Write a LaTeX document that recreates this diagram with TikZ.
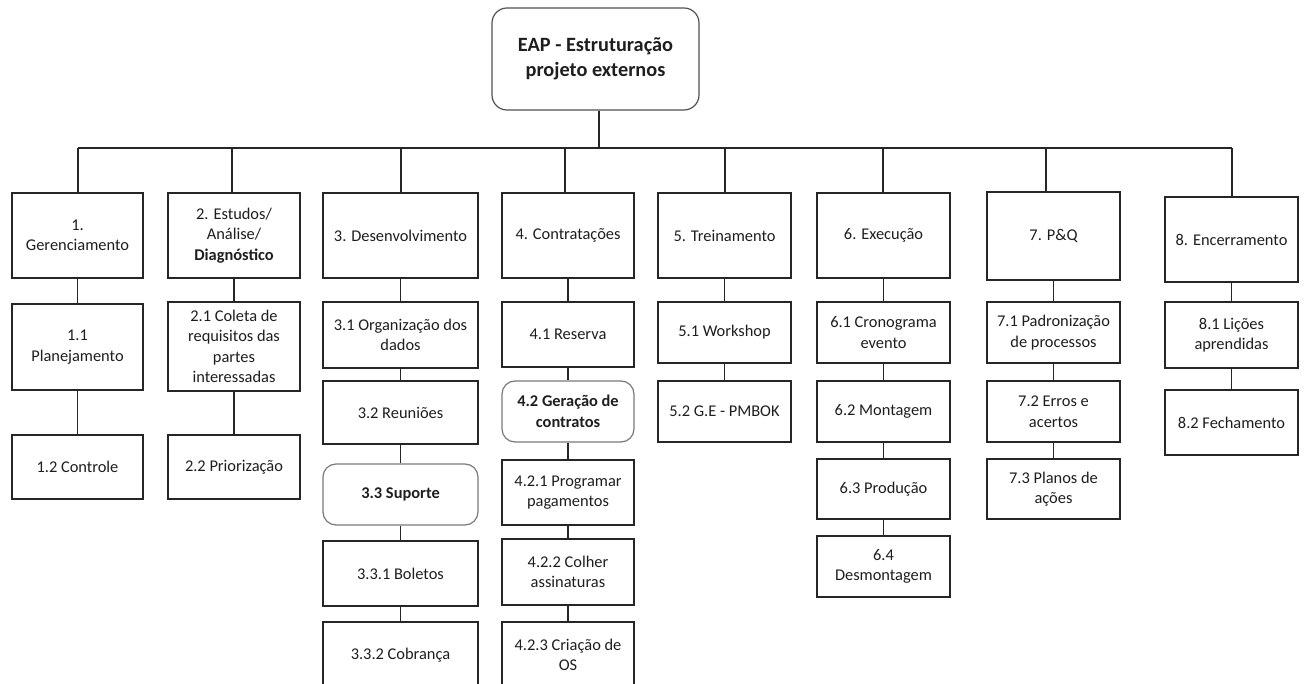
\documentclass[tikz,border=0pt]{standalone}
\usepackage{fontspec}
\setmainfont{Carlito}
\definecolor{ink}{HTML}{1E1E1E}
\definecolor{edge}{HTML}{262626}
\definecolor{soft}{HTML}{7A7A7A}
\begin{document}
\begin{tikzpicture}[x=1pt,y=-1pt,
  every node/.style={font=\fontsize{16.4}{20.5}\selectfont, text=ink, align=center, inner sep=2pt},
  bx/.style={draw=edge, line width=1.2pt, fill=white},
  rbx/.style={draw=soft, line width=1.2pt, fill=white, rounded corners=13pt},
  conn/.style={draw=edge, line width=1.2pt}]
\useasboundingbox (0,0) rectangle (1304,684);
\clip (0,0) rectangle (1304,684);
\fill[white] (0,0) rectangle (1304,684);

% root
\node[rbx, draw=edge!80, rounded corners=15pt, minimum width=207, minimum height=102,
  font=\fontsize{20.3}{24.5}\selectfont\bfseries] (top) at (595.5,59) {EAP - Estruturação\\projeto externos};

% column 1
\node[bx, minimum width=131, minimum height=85] (n1) at (77.5,235.5) {1.\\Gerenciamento};
\node[bx, minimum width=131, minimum height=86] (n11) at (77.5,347) {1.1\\Planejamento};
\node[bx, minimum width=131, minimum height=64] (n12) at (77.5,467) {1.2 Controle};
% column 2
\node[bx, minimum width=132, minimum height=85] (n2) at (234,235.5) {2. Estudos/\\Análise/\\\textbf{Diagnóstico}};
\node[bx, minimum width=132, minimum height=89] (n21) at (234,346.5) {2.1 Coleta de\\requisitos das\\partes\\interessadas};
\node[bx, minimum width=132, minimum height=64] (n22) at (234,467) {2.2 Priorização};
% column 3
\node[bx, minimum width=155, minimum height=85] (n3) at (400.5,235.5) {3. Desenvolvimento};
\node[bx, minimum width=155, minimum height=66] (n31) at (400.5,335) {3.1 Organização dos\\dados};
\node[bx, minimum width=155, minimum height=63] (n32) at (400.5,412.5) {3.2 Reuniões};
\node[rbx, minimum width=155, minimum height=61, font=\fontsize{16.4}{20.5}\selectfont\bfseries] (n33) at (400.5,494.5) {3.3 Suporte};
\node[bx, minimum width=155, minimum height=65] (n331) at (400.5,573.5) {3.3.1 Boletos};
\node[bx, minimum width=155, minimum height=66] (n332) at (400.5,655) {3.3.2 Cobrança};
% column 4
\node[bx, minimum width=132, minimum height=85] (n4) at (568,235.5) {4. Contratações};
\node[bx, minimum width=132, minimum height=65] (n41) at (568,334.5) {4.1 Reserva};
\node[rbx, minimum width=132, minimum height=61, font=\fontsize{16.4}{20.5}\selectfont\bfseries] (n42) at (568,411.5) {4.2 Geração de\\contratos};
\node[bx, minimum width=132, minimum height=65] (n421) at (568,492.5) {4.2.1 Programar\\pagamentos};
\node[bx, minimum width=132, minimum height=66] (n422) at (568,572) {4.2.2 Colher\\assinaturas};
\node[bx, minimum width=132, minimum height=66] (n423) at (568,655) {4.2.3 Criação de\\OS};
% column 5
\node[bx, minimum width=133, minimum height=85] (n5) at (724.5,235.5) {5. Treinamento};
\node[bx, minimum width=133, minimum height=61] (n51) at (724.5,332.5) {5.1 Workshop};
\node[bx, minimum width=133, minimum height=61] (n52) at (724.5,411.5) {5.2 G.E - PMBOK};
% column 6
\node[bx, minimum width=133, minimum height=85] (n6) at (883.5,235.5) {6. Execução};
\node[bx, minimum width=133, minimum height=61] (n61) at (883.5,332.5) {6.1 Cronograma\\evento};
\node[bx, minimum width=133, minimum height=61] (n62) at (883.5,411.5) {6.2 Montagem};
\node[bx, minimum width=133, minimum height=60] (n63) at (883.5,489) {6.3 Produção};
\node[bx, minimum width=133, minimum height=61] (n64) at (883.5,566.5) {6.4\\Desmontagem};
% column 7
\node[bx, minimum width=133, minimum height=88] (n7) at (1053.5,236) {7. P\&Q};
\node[bx, minimum width=133, minimum height=61] (n71) at (1053.5,332.5) {7.1 Padronização\\de processos};
\node[bx, minimum width=133, minimum height=61] (n72) at (1053.5,411.5) {7.2 Erros e\\acertos};
\node[bx, minimum width=133, minimum height=60] (n73) at (1053.5,489) {7.3 Planos de\\ações};
% column 8
\node[bx, minimum width=133, minimum height=85] (n8) at (1231.5,239.5) {8. Encerramento};
\node[bx, minimum width=133, minimum height=66] (n81) at (1231.5,335) {8.1 Lições\\aprendidas};
\node[bx, minimum width=133, minimum height=65] (n82) at (1231.5,422.5) {8.2 Fechamento};

% bus
\coordinate (t0) at (599,148);
\coordinate (d1) at (78,148);
\coordinate (d2) at (232,148);
\coordinate (d3) at (401,148);
\coordinate (d4) at (565,148);
\coordinate (d5) at (725,148);
\coordinate (d6) at (883,148);
\coordinate (d7) at (1046,148);
\coordinate (d8) at (1232,148);
\draw[conn] (top.south -| t0) -- (t0);
\draw[conn] (d1) -- (d8);
\foreach \i in {1,...,8} { \draw[conn] (d\i) -- (d\i |- n\i.north); }

% vertical links
\foreach \a/\b in {n1/n11, n11/n12, n2/n21, n21/n22,
  n3/n31, n31/n32, n32/n33, n33/n331, n331/n332,
  n4/n41, n41/n42, n42/n421, n421/n422, n422/n423,
  n5/n51, n51/n52,
  n6/n61, n61/n62, n62/n63, n63/n64,
  n7/n71, n71/n72, n72/n73,
  n8/n81, n81/n82}
  { \draw[conn] (\a.south) -- (\b.north); }
\end{tikzpicture}
\end{document}
